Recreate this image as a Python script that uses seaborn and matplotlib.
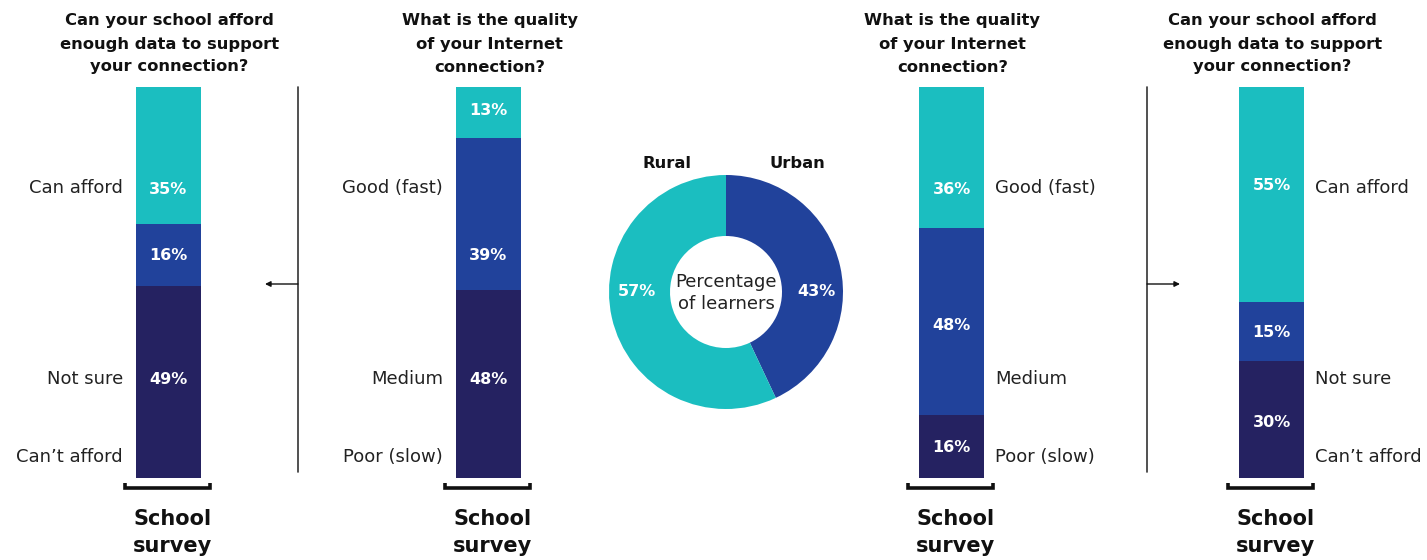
import matplotlib
matplotlib.use("Agg")
import matplotlib.pyplot as plt
import seaborn as sns
import pandas as pd
import numpy as np

# ---------------- data ----------------
afford_cats = ["Can't afford", "Not sure", "Can afford"]      # bottom -> top
quality_cats = ["Poor (slow)", "Medium", "Good (fast)"]       # bottom -> top
rural_afford = [49, 16, 35]
rural_quality = [48, 39, 13]
urban_quality = [16, 48, 36]
urban_afford = [30, 15, 55]
donut_labels = ["Urban", "Rural"]
donut_values = [43, 57]

afford_title = ["Can your school afford", "enough data to support", "your connection?"]
quality_title = ["What is the quality", "of your Internet", "connection?"]
# labels (text) shown beside bars, from top to bottom
afford_side = ["Can afford", "Not sure", "Can\u2019t afford"]
quality_side = ["Good (fast)", "Medium", "Poor (slow)"]
footer = ["School", "survey"]

# ---------------- style ----------------
sns.set_theme(style="white")
plt.rcParams["font.family"] = ["DejaVu Sans"]

TEAL = "#1BBEC0"
BLUE = "#21429B"
NAVY = "#252261"
seg_colors = [NAVY, BLUE, TEAL]

W, H = 1427, 560
fig = plt.figure(figsize=(W / 100, H / 100), dpi=100)

# overlay axes in pixel coordinates for decorations
deco = fig.add_axes([0, 0, 1, 1])
deco.set_xlim(0, W)
deco.set_ylim(H, 0)
deco.axis("off")

BAR_TOP, BAR_BOT, BAR_W = 87, 478, 65
panels = [
    dict(left=136, vals=rural_afford, cats=afford_cats, title=afford_title,
         side=afford_side, side_pos="left", pct_y=[73.7, 57.0, 25.1][::-1]),
    dict(left=456, vals=rural_quality, cats=quality_cats, title=quality_title,
         side=quality_side, side_pos="left", pct_y=[93.9, 57.0, 25.1][::-1]),
    dict(left=919, vals=urban_quality, cats=quality_cats, title=quality_title,
         side=quality_side, side_pos="right", pct_y=[73.7, 38.9, 7.9][::-1]),
    dict(left=1239, vals=urban_afford, cats=afford_cats, title=afford_title,
         side=afford_side, side_pos="right", pct_y=[74.7, 37.1, 14.3][::-1]),
]
side_label_y = [74.2, 25.3, 5.4]   # y positions (in % units) of side labels, top->bottom

TITLE_FS = 11.8
LABEL_FS = 13
PCT_FS = 11.5

for p in panels:
    ax = fig.add_axes([p["left"] / W, (H - BAR_BOT) / H, BAR_W / W, (BAR_BOT - BAR_TOP) / H])
    vals = np.array(p["vals"])
    cum = np.cumsum(vals)
    # draw from tallest cumulative to shortest so lower segments overlay
    for k in range(len(vals) - 1, -1, -1):
        df = pd.DataFrame({"survey": ["School survey"], "value": [cum[k]]})
        sns.barplot(data=df, x="survey", y="value", color=seg_colors[k],
                    saturation=1, width=1.0, linewidth=0, ax=ax)
    ax.set_xlim(-0.5, 0.5)
    ax.set_ylim(0, 100)
    ax.axis("off")
    for k, v in enumerate(vals):
        ax.text(0, p["pct_y"][k], f"{v}%", ha="center", va="center",
                color="white", fontsize=PCT_FS, fontweight="bold")
    for lab, y in zip(p["side"], side_label_y):
        if p["side_pos"] == "left":
            ax.text(-0.5 - 13 / BAR_W, y, lab, ha="right", va="center",
                    fontsize=LABEL_FS, color="#222222", clip_on=False)
        else:
            ax.text(0.5 + 11 / BAR_W, y, lab, ha="left", va="center",
                    fontsize=LABEL_FS, color="#222222", clip_on=False)

    cx = p["left"] + BAR_W / 2
    for i, line in enumerate(p["title"]):
        deco.text(cx + 1, 21 + 23 * i, line, ha="center", va="center",
                  fontsize=TITLE_FS, fontweight="bold", color="#111111")
    # bracket below bar
    bl, br = p["left"] - 11, p["left"] + BAR_W + 9
    deco.plot([bl, bl, br, br], [483, 488, 488, 483], color="#111111", lw=2.6,
              solid_joinstyle="miter", solid_capstyle="butt")
    for i, line in enumerate(footer):
        deco.text(cx + 4, 519 + 27 * i, line, ha="center", va="center",
                  fontsize=15, fontweight="bold", color="#111111")

# separator lines with arrows
for x, x_end in [(298, 265), (1147, 1180)]:
    deco.plot([x, x], [87, 472], color="#333333", lw=1.2)
    deco.annotate("", xy=(x_end, 284), xytext=(x, 284),
                  arrowprops=dict(arrowstyle="-|>", color="#111111", lw=1.0,
                                  mutation_scale=8, shrinkA=0, shrinkB=0))

# donut
R = 117
pax = fig.add_axes([(726 - R) / W, (H - 292 - R) / H, 2 * R / W, 2 * R / H])
pax.pie(donut_values, colors=[BLUE, TEAL], startangle=90, counterclock=False,
        radius=1, wedgeprops=dict(width=1 - 56 / R, linewidth=0))
pax.set_xlim(-1, 1)
pax.set_ylim(-1, 1)
pax.set_aspect("equal")
pax.text(-0.50, 1.10, donut_labels[1], ha="center", va="center", fontsize=11.8,
         fontweight="bold", color="#111111", clip_on=False)
pax.text(0.61, 1.10, donut_labels[0], ha="center", va="center", fontsize=11.8,
         fontweight="bold", color="#111111", clip_on=False)
pax.text(-0.76, 0.0, f"{donut_values[1]}%", ha="center", va="center", fontsize=PCT_FS,
         fontweight="bold", color="white")
pax.text(0.77, 0.0, f"{donut_values[0]}%", ha="center", va="center", fontsize=PCT_FS,
         fontweight="bold", color="white")
pax.text(0, 0.085, "Percentage", ha="center", va="center", fontsize=13, color="#222222")
pax.text(0, -0.105, "of learners", ha="center", va="center", fontsize=13, color="#222222")

fig.savefig("out.png", dpi=100, facecolor="white")
